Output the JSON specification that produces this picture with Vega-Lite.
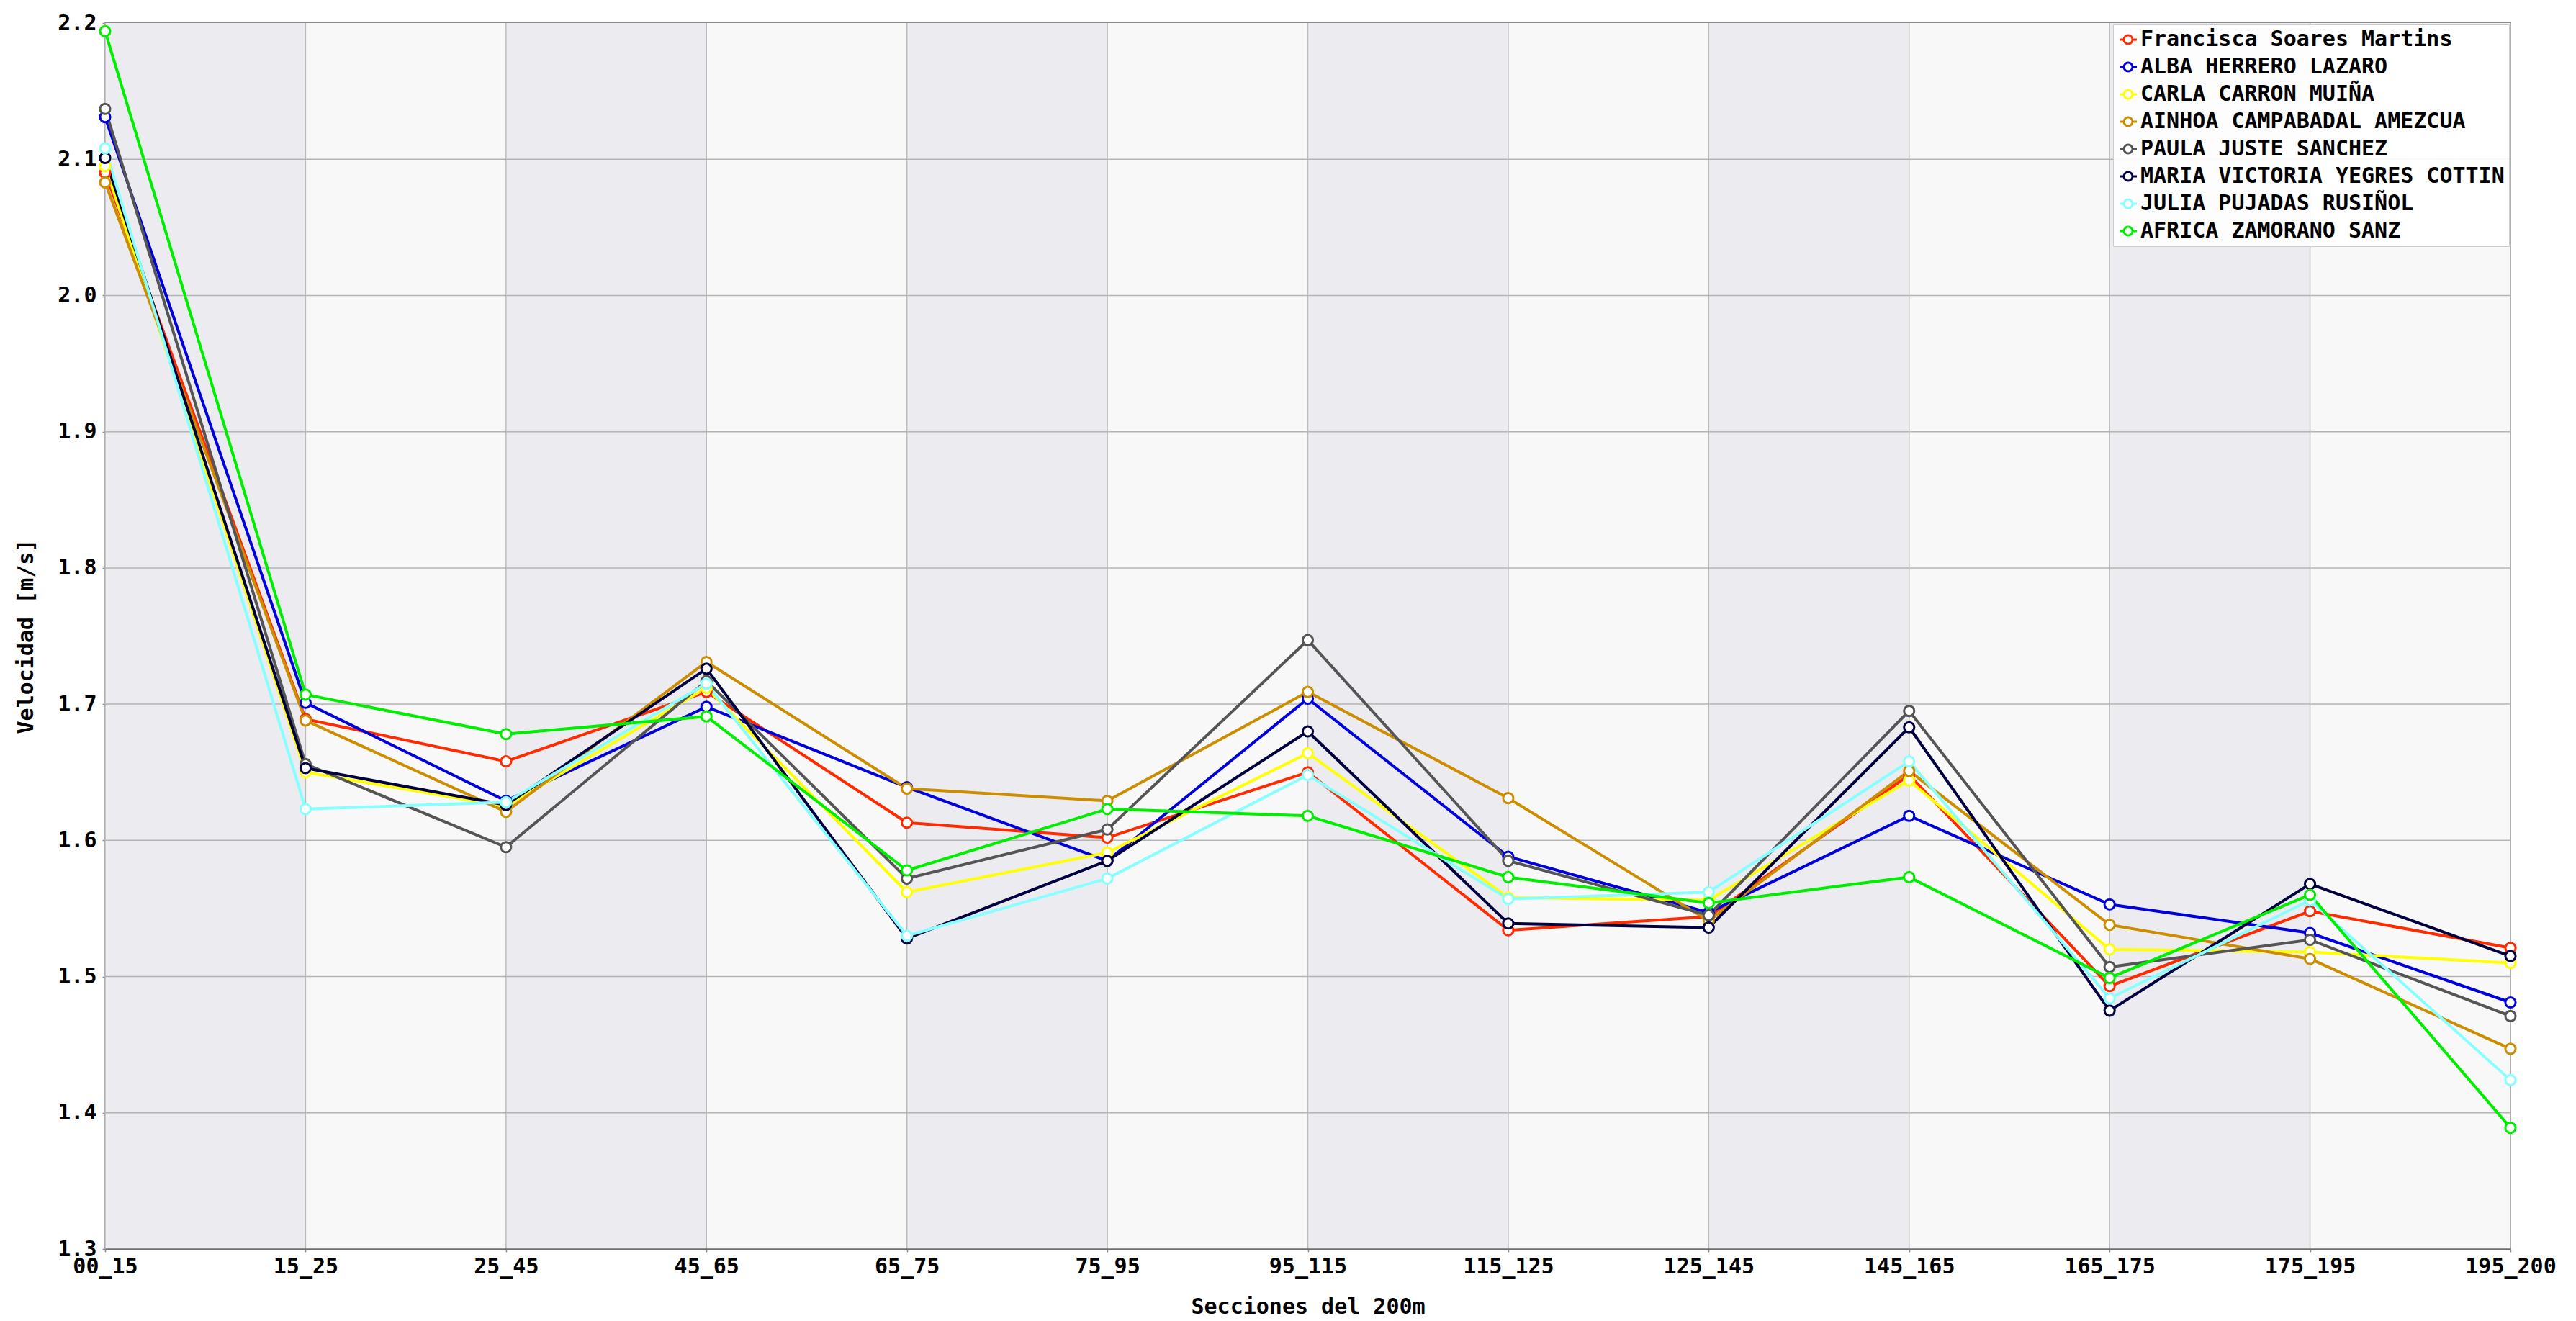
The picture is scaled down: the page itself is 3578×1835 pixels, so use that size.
{
  "$schema": "https://vega.github.io/schema/vega-lite/v6.json",
  "width": 3341,
  "height": 1703,
  "autosize": {"type": "none"},
  "padding": {"left": 146, "top": 32, "right": 91, "bottom": 100},
  "background": "white",
  "config": {
    "view": {"stroke": "#8c8c8c", "strokeWidth": 2},
    "font": "DejaVu Sans Mono",
    "axis": {
      "labelFont": "DejaVu Sans Mono", "labelFontWeight": "bold", "labelFontSize": 30, "labelColor": "#000000",
      "titleFont": "DejaVu Sans Mono", "titleFontWeight": "bold", "titleFontSize": 30, "titleColor": "#000000",
      "domain": false, "grid": false, "tickColor": "#8c8c8c", "tickSize": 4, "tickWidth": 1.5
    }
  },
  "datasets": {
    "bands": [
      {"s": "00_15", "e": "15_25", "shade": "d"},
      {"s": "15_25", "e": "25_45", "shade": "l"},
      {"s": "25_45", "e": "45_65", "shade": "d"},
      {"s": "45_65", "e": "65_75", "shade": "l"},
      {"s": "65_75", "e": "75_95", "shade": "d"},
      {"s": "75_95", "e": "95_115", "shade": "l"},
      {"s": "95_115", "e": "115_125", "shade": "d"},
      {"s": "115_125", "e": "125_145", "shade": "l"},
      {"s": "125_145", "e": "145_165", "shade": "d"},
      {"s": "145_165", "e": "165_175", "shade": "l"},
      {"s": "165_175", "e": "175_195", "shade": "d"},
      {"s": "175_195", "e": "195_200", "shade": "l"}
    ],
    "secs": [
      {"sec": "00_15"}, {"sec": "15_25"}, {"sec": "25_45"}, {"sec": "45_65"}, {"sec": "65_75"}, {"sec": "75_95"}, {"sec": "95_115"},
      {"sec": "115_125"}, {"sec": "125_145"}, {"sec": "145_165"}, {"sec": "165_175"}, {"sec": "175_195"}, {"sec": "195_200"}
    ],
    "hgrid": [
      {"v": 1.4}, {"v": 1.5}, {"v": 1.6}, {"v": 1.7}, {"v": 1.8}, {"v": 1.9}, {"v": 2.0}, {"v": 2.1}
    ],
    "runs": [
      {"name": "Francisca Soares Martins", "sec": "00_15", "v": 2.090},
      {"name": "Francisca Soares Martins", "sec": "15_25", "v": 1.689},
      {"name": "Francisca Soares Martins", "sec": "25_45", "v": 1.658},
      {"name": "Francisca Soares Martins", "sec": "45_65", "v": 1.709},
      {"name": "Francisca Soares Martins", "sec": "65_75", "v": 1.613},
      {"name": "Francisca Soares Martins", "sec": "75_95", "v": 1.602},
      {"name": "Francisca Soares Martins", "sec": "95_115", "v": 1.650},
      {"name": "Francisca Soares Martins", "sec": "115_125", "v": 1.534},
      {"name": "Francisca Soares Martins", "sec": "125_145", "v": 1.544},
      {"name": "Francisca Soares Martins", "sec": "145_165", "v": 1.648},
      {"name": "Francisca Soares Martins", "sec": "165_175", "v": 1.493},
      {"name": "Francisca Soares Martins", "sec": "175_195", "v": 1.548},
      {"name": "Francisca Soares Martins", "sec": "195_200", "v": 1.521},
      {"name": "ALBA HERRERO LAZARO", "sec": "00_15", "v": 2.131},
      {"name": "ALBA HERRERO LAZARO", "sec": "15_25", "v": 1.701},
      {"name": "ALBA HERRERO LAZARO", "sec": "25_45", "v": 1.629},
      {"name": "ALBA HERRERO LAZARO", "sec": "45_65", "v": 1.698},
      {"name": "ALBA HERRERO LAZARO", "sec": "65_75", "v": 1.639},
      {"name": "ALBA HERRERO LAZARO", "sec": "75_95", "v": 1.585},
      {"name": "ALBA HERRERO LAZARO", "sec": "95_115", "v": 1.704},
      {"name": "ALBA HERRERO LAZARO", "sec": "115_125", "v": 1.588},
      {"name": "ALBA HERRERO LAZARO", "sec": "125_145", "v": 1.547},
      {"name": "ALBA HERRERO LAZARO", "sec": "145_165", "v": 1.618},
      {"name": "ALBA HERRERO LAZARO", "sec": "165_175", "v": 1.553},
      {"name": "ALBA HERRERO LAZARO", "sec": "175_195", "v": 1.532},
      {"name": "ALBA HERRERO LAZARO", "sec": "195_200", "v": 1.481},
      {"name": "CARLA CARRON MUIÑA", "sec": "00_15", "v": 2.095},
      {"name": "CARLA CARRON MUIÑA", "sec": "15_25", "v": 1.650},
      {"name": "CARLA CARRON MUIÑA", "sec": "25_45", "v": 1.625},
      {"name": "CARLA CARRON MUIÑA", "sec": "45_65", "v": 1.712},
      {"name": "CARLA CARRON MUIÑA", "sec": "65_75", "v": 1.562},
      {"name": "CARLA CARRON MUIÑA", "sec": "75_95", "v": 1.591},
      {"name": "CARLA CARRON MUIÑA", "sec": "95_115", "v": 1.664},
      {"name": "CARLA CARRON MUIÑA", "sec": "115_125", "v": 1.558},
      {"name": "CARLA CARRON MUIÑA", "sec": "125_145", "v": 1.556},
      {"name": "CARLA CARRON MUIÑA", "sec": "145_165", "v": 1.644},
      {"name": "CARLA CARRON MUIÑA", "sec": "165_175", "v": 1.520},
      {"name": "CARLA CARRON MUIÑA", "sec": "175_195", "v": 1.518},
      {"name": "CARLA CARRON MUIÑA", "sec": "195_200", "v": 1.510},
      {"name": "AINHOA CAMPABADAL AMEZCUA", "sec": "00_15", "v": 2.083},
      {"name": "AINHOA CAMPABADAL AMEZCUA", "sec": "15_25", "v": 1.688},
      {"name": "AINHOA CAMPABADAL AMEZCUA", "sec": "25_45", "v": 1.621},
      {"name": "AINHOA CAMPABADAL AMEZCUA", "sec": "45_65", "v": 1.731},
      {"name": "AINHOA CAMPABADAL AMEZCUA", "sec": "65_75", "v": 1.638},
      {"name": "AINHOA CAMPABADAL AMEZCUA", "sec": "75_95", "v": 1.629},
      {"name": "AINHOA CAMPABADAL AMEZCUA", "sec": "95_115", "v": 1.709},
      {"name": "AINHOA CAMPABADAL AMEZCUA", "sec": "115_125", "v": 1.631},
      {"name": "AINHOA CAMPABADAL AMEZCUA", "sec": "125_145", "v": 1.541},
      {"name": "AINHOA CAMPABADAL AMEZCUA", "sec": "145_165", "v": 1.651},
      {"name": "AINHOA CAMPABADAL AMEZCUA", "sec": "165_175", "v": 1.538},
      {"name": "AINHOA CAMPABADAL AMEZCUA", "sec": "175_195", "v": 1.513},
      {"name": "AINHOA CAMPABADAL AMEZCUA", "sec": "195_200", "v": 1.447},
      {"name": "PAULA JUSTE SANCHEZ", "sec": "00_15", "v": 2.137},
      {"name": "PAULA JUSTE SANCHEZ", "sec": "15_25", "v": 1.656},
      {"name": "PAULA JUSTE SANCHEZ", "sec": "25_45", "v": 1.595},
      {"name": "PAULA JUSTE SANCHEZ", "sec": "45_65", "v": 1.717},
      {"name": "PAULA JUSTE SANCHEZ", "sec": "65_75", "v": 1.572},
      {"name": "PAULA JUSTE SANCHEZ", "sec": "75_95", "v": 1.608},
      {"name": "PAULA JUSTE SANCHEZ", "sec": "95_115", "v": 1.747},
      {"name": "PAULA JUSTE SANCHEZ", "sec": "115_125", "v": 1.585},
      {"name": "PAULA JUSTE SANCHEZ", "sec": "125_145", "v": 1.545},
      {"name": "PAULA JUSTE SANCHEZ", "sec": "145_165", "v": 1.695},
      {"name": "PAULA JUSTE SANCHEZ", "sec": "165_175", "v": 1.507},
      {"name": "PAULA JUSTE SANCHEZ", "sec": "175_195", "v": 1.527},
      {"name": "PAULA JUSTE SANCHEZ", "sec": "195_200", "v": 1.471},
      {"name": "MARIA VICTORIA YEGRES COTTIN", "sec": "00_15", "v": 2.101},
      {"name": "MARIA VICTORIA YEGRES COTTIN", "sec": "15_25", "v": 1.653},
      {"name": "MARIA VICTORIA YEGRES COTTIN", "sec": "25_45", "v": 1.626},
      {"name": "MARIA VICTORIA YEGRES COTTIN", "sec": "45_65", "v": 1.726},
      {"name": "MARIA VICTORIA YEGRES COTTIN", "sec": "65_75", "v": 1.528},
      {"name": "MARIA VICTORIA YEGRES COTTIN", "sec": "75_95", "v": 1.585},
      {"name": "MARIA VICTORIA YEGRES COTTIN", "sec": "95_115", "v": 1.680},
      {"name": "MARIA VICTORIA YEGRES COTTIN", "sec": "115_125", "v": 1.539},
      {"name": "MARIA VICTORIA YEGRES COTTIN", "sec": "125_145", "v": 1.536},
      {"name": "MARIA VICTORIA YEGRES COTTIN", "sec": "145_165", "v": 1.683},
      {"name": "MARIA VICTORIA YEGRES COTTIN", "sec": "165_175", "v": 1.475},
      {"name": "MARIA VICTORIA YEGRES COTTIN", "sec": "175_195", "v": 1.568},
      {"name": "MARIA VICTORIA YEGRES COTTIN", "sec": "195_200", "v": 1.515},
      {"name": "JULIA PUJADAS RUSIÑOL", "sec": "00_15", "v": 2.108},
      {"name": "JULIA PUJADAS RUSIÑOL", "sec": "15_25", "v": 1.623},
      {"name": "JULIA PUJADAS RUSIÑOL", "sec": "25_45", "v": 1.628},
      {"name": "JULIA PUJADAS RUSIÑOL", "sec": "45_65", "v": 1.715},
      {"name": "JULIA PUJADAS RUSIÑOL", "sec": "65_75", "v": 1.530},
      {"name": "JULIA PUJADAS RUSIÑOL", "sec": "75_95", "v": 1.572},
      {"name": "JULIA PUJADAS RUSIÑOL", "sec": "95_115", "v": 1.648},
      {"name": "JULIA PUJADAS RUSIÑOL", "sec": "115_125", "v": 1.557},
      {"name": "JULIA PUJADAS RUSIÑOL", "sec": "125_145", "v": 1.562},
      {"name": "JULIA PUJADAS RUSIÑOL", "sec": "145_165", "v": 1.658},
      {"name": "JULIA PUJADAS RUSIÑOL", "sec": "165_175", "v": 1.484},
      {"name": "JULIA PUJADAS RUSIÑOL", "sec": "175_195", "v": 1.556},
      {"name": "JULIA PUJADAS RUSIÑOL", "sec": "195_200", "v": 1.424},
      {"name": "AFRICA ZAMORANO SANZ", "sec": "00_15", "v": 2.194},
      {"name": "AFRICA ZAMORANO SANZ", "sec": "15_25", "v": 1.707},
      {"name": "AFRICA ZAMORANO SANZ", "sec": "25_45", "v": 1.678},
      {"name": "AFRICA ZAMORANO SANZ", "sec": "45_65", "v": 1.691},
      {"name": "AFRICA ZAMORANO SANZ", "sec": "65_75", "v": 1.578},
      {"name": "AFRICA ZAMORANO SANZ", "sec": "75_95", "v": 1.623},
      {"name": "AFRICA ZAMORANO SANZ", "sec": "95_115", "v": 1.618},
      {"name": "AFRICA ZAMORANO SANZ", "sec": "115_125", "v": 1.573},
      {"name": "AFRICA ZAMORANO SANZ", "sec": "125_145", "v": 1.554},
      {"name": "AFRICA ZAMORANO SANZ", "sec": "145_165", "v": 1.573},
      {"name": "AFRICA ZAMORANO SANZ", "sec": "165_175", "v": 1.499},
      {"name": "AFRICA ZAMORANO SANZ", "sec": "175_195", "v": 1.560},
      {"name": "AFRICA ZAMORANO SANZ", "sec": "195_200", "v": 1.389}
    ]
  },
  "layer": [
    {
      "data": {"name": "bands"},
      "mark": {"type": "rect"},
      "encoding": {
        "x": {"field": "s", "type": "ordinal",
              "scale": {"type": "point", "padding": 0, "domain": ["00_15","15_25","25_45","45_65","65_75","75_95","95_115","115_125","125_145","145_165","165_175","175_195","195_200"]},
              "axis": {"title": "Secciones del 200m", "labelAngle": 0, "labelPadding": 5, "titlePadding": 26, "ticks": true, "domain": true, "domainColor": "#6e6e6e", "domainWidth": 2.5}},
        "x2": {"field": "e"},
        "fill": {"field": "shade", "type": "nominal", "scale": {"domain": ["d", "l"], "range": ["#ebebf0", "#f8f8f8"]}, "legend": null}
      }
    },
    {
      "data": {"name": "secs"},
      "mark": {"type": "rule", "color": "#bcbcbc", "strokeWidth": 1.5},
      "encoding": {
        "x": {"field": "sec", "type": "ordinal", "axis": {"title": "Secciones del 200m", "labelAngle": 0}}
      }
    },
    {
      "data": {"name": "hgrid"},
      "mark": {"type": "rule", "color": "#b4b4b4", "strokeWidth": 1.5},
      "encoding": {
        "y": {"field": "v", "type": "quantitative",
              "scale": {"domain": [1.3, 2.2], "nice": false, "zero": false},
              "axis": {"title": "Velocidad [m/s]", "values": [1.3,1.4,1.5,1.6,1.7,1.8,1.9,2.0,2.1,2.2], "format": ".1f", "labelPadding": 8, "titlePadding": 28}}
      }
    },
    {
      "data": {"name": "runs"},
      "mark": {"type": "line", "strokeWidth": 4},
      "encoding": {
        "x": {"field": "sec", "type": "ordinal", "axis": {"title": "Secciones del 200m", "labelAngle": 0}},
        "y": {"field": "v", "type": "quantitative", "axis": {"title": "Velocidad [m/s]"}},
        "color": {"field": "name", "type": "nominal",
          "scale": {
            "domain": ["Francisca Soares Martins","ALBA HERRERO LAZARO","CARLA CARRON MUIÑA","AINHOA CAMPABADAL AMEZCUA","PAULA JUSTE SANCHEZ","MARIA VICTORIA YEGRES COTTIN","JULIA PUJADAS RUSIÑOL","AFRICA ZAMORANO SANZ"],
            "range": ["#ff2a00","#0000dd","#ffff00","#cc8e00","#555555","#000040","#88ffff","#00ee00"]
          },
          "legend": {
            "title": null, "orient": "top-right", "offset": 2,
            "fillColor": "rgba(255,255,255,0.9)", "strokeColor": "#cccccc",
            "padding": 6, "rowPadding": 8, "labelOffset": 2, "labelLimit": 0,
            "labelFont": "DejaVu Sans Mono", "labelFontWeight": "bold", "labelFontSize": 30, "labelColor": "#000000",
            "symbolType": "M-1,0L-0.5,0M0.5,0L1,0M0.5,0A0.5,0.5,0,1,1,-0.5,0A0.5,0.5,0,1,1,0.5,0",
            "symbolSize": 576, "symbolStrokeWidth": 3, "symbolFillColor": "white",
            "encode": {"symbols": {"update": {"fill": {"value": "white"}, "opacity": {"value": 1}}}}
          }
        },
        "order": {"value": null}
      }
    },
    {
      "data": {"name": "runs"},
      "mark": {"type": "point", "filled": false, "fill": "white", "fillOpacity": 1, "opacity": 1, "size": 200, "strokeWidth": 3},
      "encoding": {
        "x": {"field": "sec", "type": "ordinal", "axis": {"title": "Secciones del 200m", "labelAngle": 0}},
        "y": {"field": "v", "type": "quantitative", "axis": {"title": "Velocidad [m/s]"}},
        "color": {"field": "name", "type": "nominal"}
      }
    }
  ]
}
